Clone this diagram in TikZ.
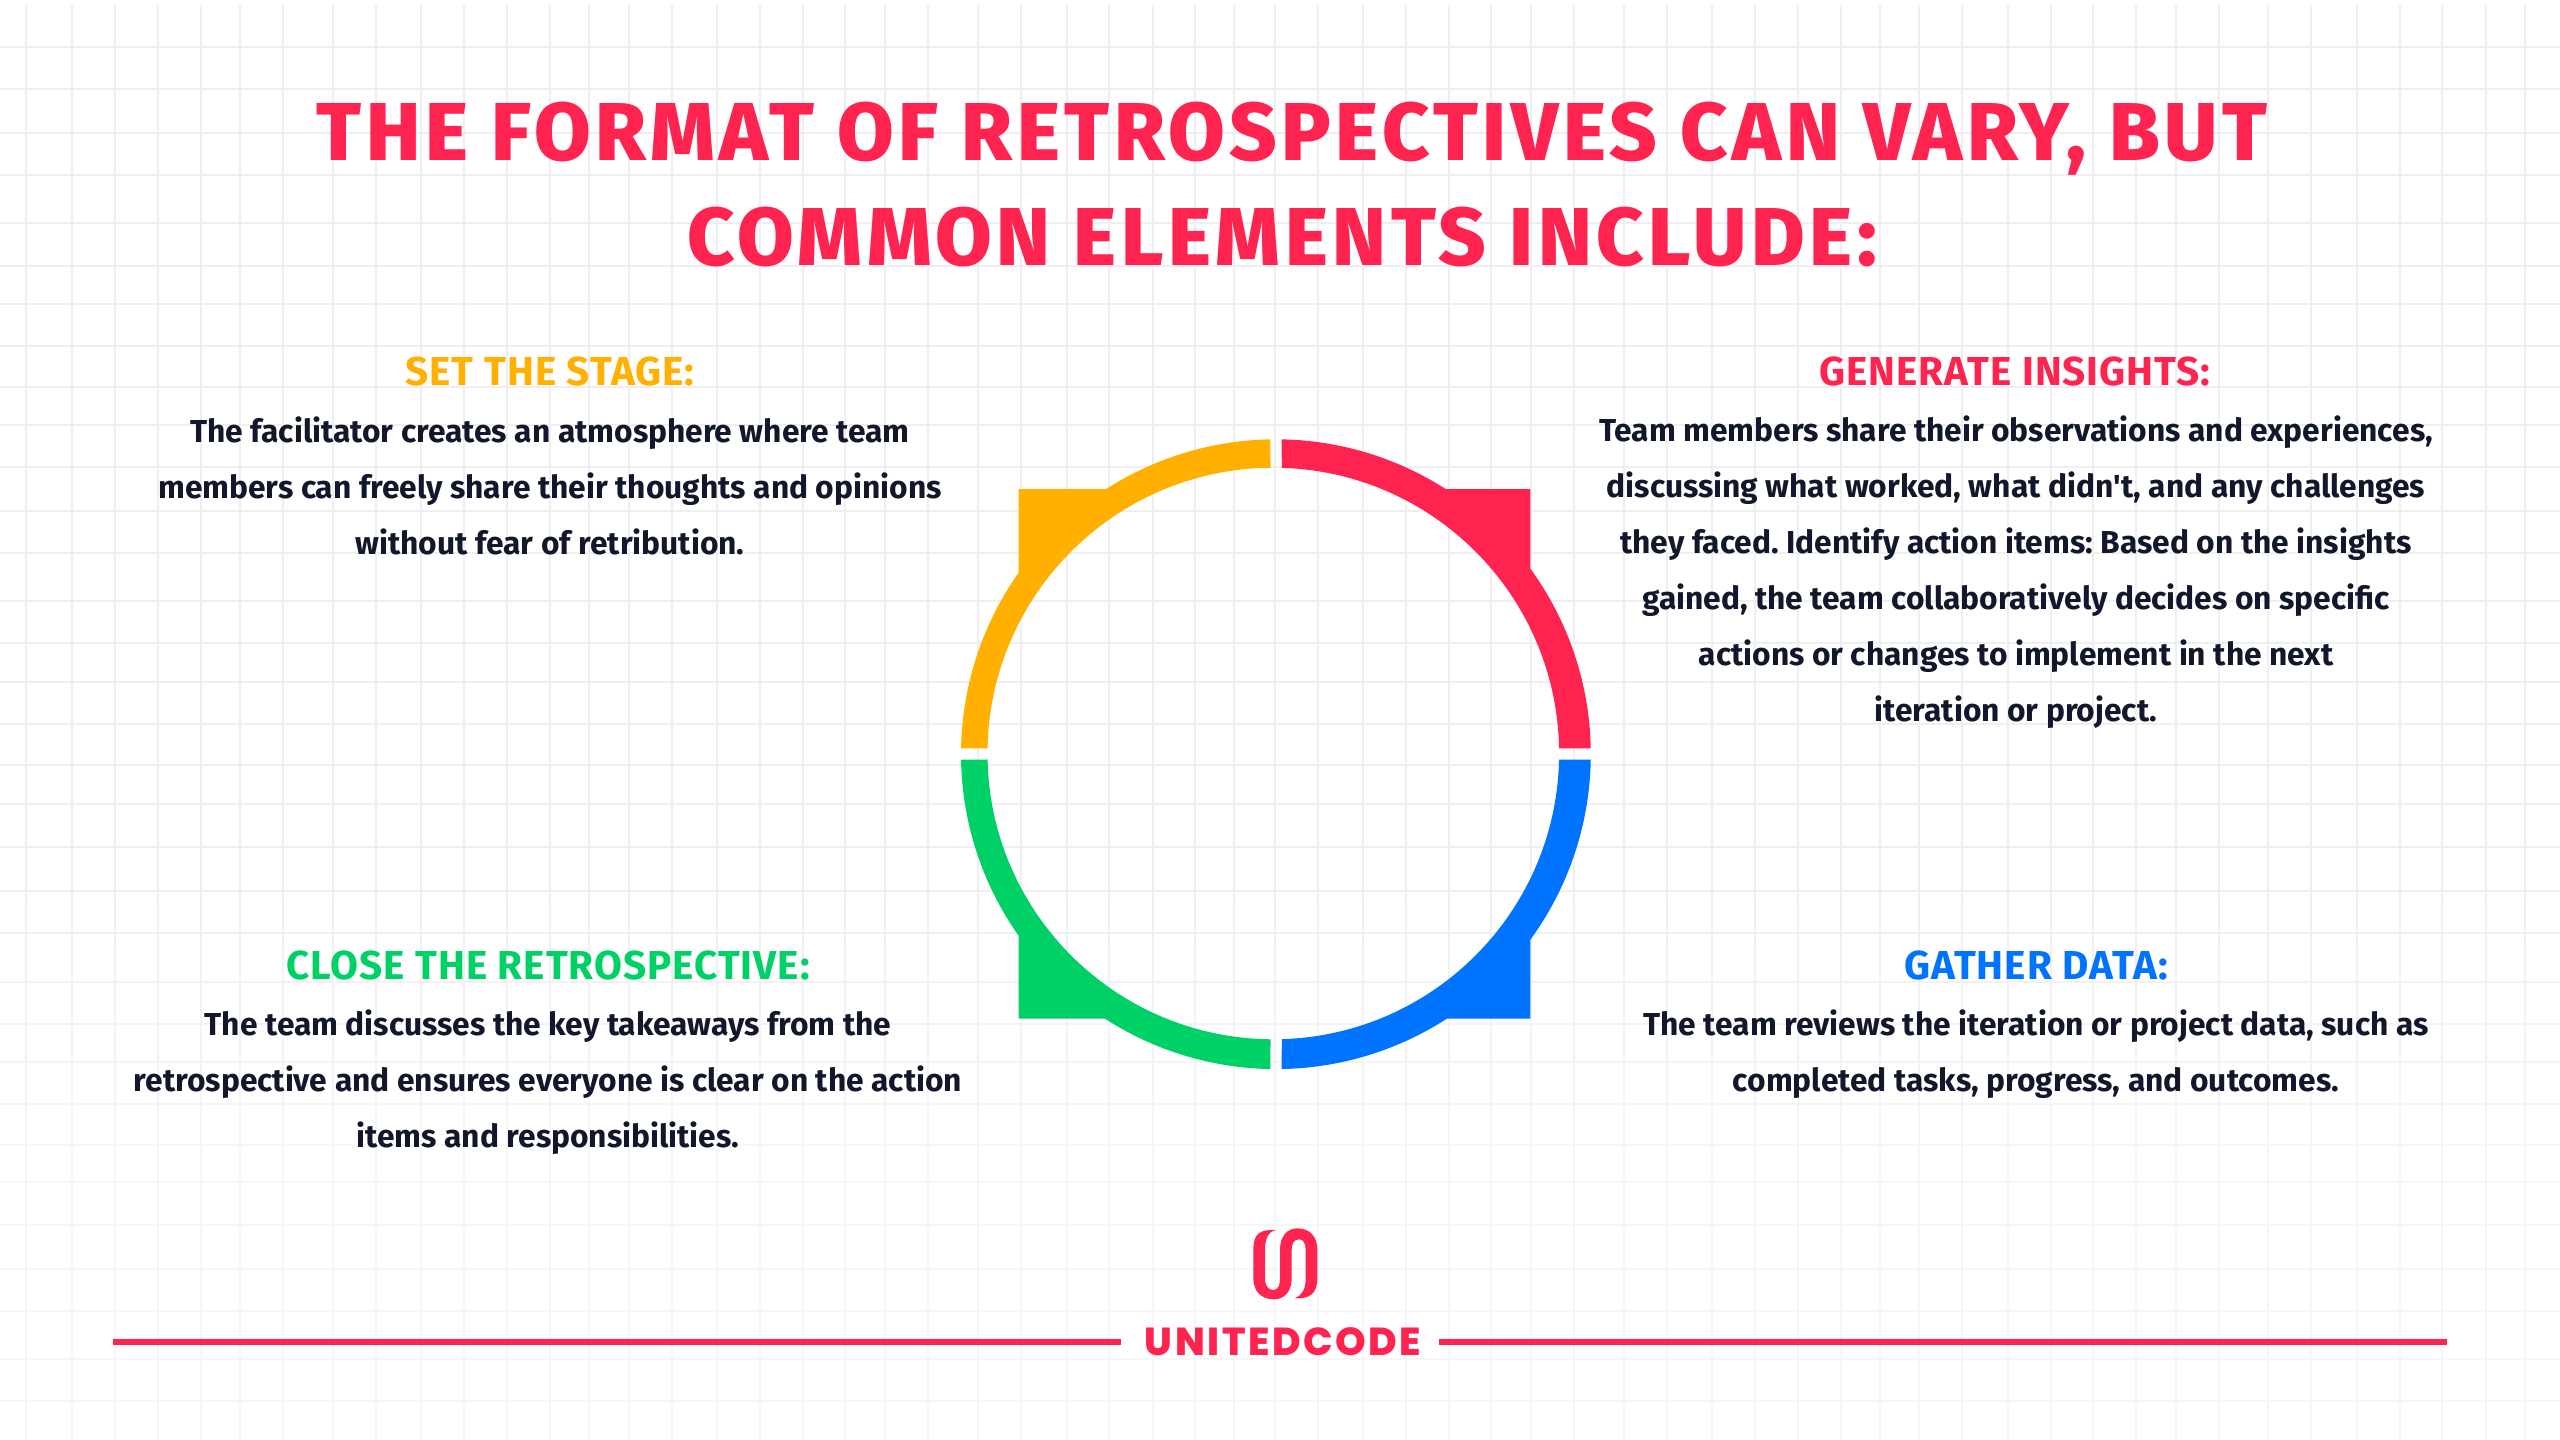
\documentclass[tikz,border=0pt]{standalone}
\usepackage{fontspec}
\setmainfont{Fira Sans}[BoldFont={Fira Sans Bold}]
\newfontfamily\bodyfont{Fira Sans}[BoldFont={Fira Sans Bold}]
\newfontfamily\titlefont{Fira Sans ExtraBold}[LetterSpace=5.6]
\newfontfamily\headfont{Fira Sans Bold}[LetterSpace=2.5]
\newfontfamily\logofont{Poppins ExtraBold}[LetterSpace=6.5]
\usetikzlibrary{calc}
\definecolor{cred}{HTML}{FF234F}
\definecolor{cyel}{HTML}{FFB000}
\definecolor{cgrn}{HTML}{00D167}
\definecolor{cblu}{HTML}{0073FF}
\definecolor{cink}{HTML}{12172B}
\definecolor{cgrid}{HTML}{EFEFF2}
\newcommand{\sector}[8]{%
  \fill[#1] ($(Oo)+(#2:314.9)$) arc[start angle=#2,end angle=#3,radius=314.9]
    -- (#6) -- ($(Oo)+(#4:314.9)$) arc[start angle=#4,end angle=#5,radius=314.9]
    -- ($(Oi)+(#7:285.8)$) arc[start angle=#7,end angle=#8,radius=285.8] -- cycle;}
\tikzset{
  head/.style={font=\headfont\fontsize{20.2}{24}\selectfont,inner sep=0pt,anchor=center},
  para/.style={font=\bodyfont\bfseries\frenchspacing\fontsize{15.87}{28}\selectfont,text=cink,align=center,inner sep=0pt,anchor=center},
  gridline/.style={cgrid,line width=0.9pt},
  rule/.style={cred,line width=3pt}
}
\begin{document}
\begin{tikzpicture}[x=0.5pt,y=-0.5pt]
\useasboundingbox (0,0) rectangle (2560,1440);
\fill[white] (0,0) rectangle (2560,1440);
\foreach \x in {26,72,115,158,201,240,283,333,376,421,464,507,550,589,629,672,717,760,803,845,885,928,978,1021,1067,1109,1153,1195,1234,1275,1318,1363,1406,1449,1491,1531,1574,1624,1667,1712,1755,1798,1841,1880,1919,1962,2008,2051,2093,2136,2176,2219,2268,2311,2357,2400,2442,2486,2525}
  \draw[gridline] (\x,5) -- (\x,1440);
\foreach \y in {47,89,133,175,223,266,304,346,387,425,467,511,553,601,643,682,724,765,804,847,891,933,982,1024,1062,1104,1145,1182,1225,1269,1311,1359,1401}
  \draw[gridline] (0,\y) -- (2560,\y);
\foreach \y in {900,940,...,1400}
  \fill[white,opacity=0.1] (0,\y) rectangle (2560,1440);

\coordinate (Oo) at (1275.9,754.2);
\coordinate (Oi) at (1273.3,753.5);
\coordinate (cTR) at (1530.3,489);
\coordinate (cTL) at (1018.5,489);
\coordinate (cBL) at (1018.5,1018.5);
\coordinate (cBR) at (1530.3,1018.5);
\sector{cred}{-88.95}{-57.37}{-36.11}{-1.07}{cTR}{-1.04}{-88.3}
\sector{cblu}{0.98}{36.11}{57.07}{88.95}{cBR}{88.3}{1.22}
\sector{cgrn}{91}{122.93}{144.82}{179}{cBL}{178.8}{90.56}
\sector{cyel}{181.07}{215.18}{237.37}{269}{cTL}{269.44}{181.04}

\node[font=\titlefont\fontsize{41}{52.5}\selectfont,text=cred,align=center,inner sep=0pt] (title) at (1282,185)
  {\hspace*{10pt}THE FORMAT OF RETROSPECTIVES CAN VARY, BUT\\COMMON ELEMENTS INCLUDE:};

\node[head,text=cyel] (h1) at (550,371) {SET THE STAGE:};
\node[para] (b1) at (550,486) {The facilitator creates an atmosphere where team\\members can freely share their thoughts and opinions\\without fear of retribution.};
\node[head,text=cred] (h2) at (2015,371) {GENERATE INSIGHTS:};
\node[para] (b2) at (2016,572) {Team members share their observations and experiences,\\discussing what worked, what didn't, and any challenges\\they faced. Identify action items: Based on the insights\\gained, the team collaboratively decides on specific\\actions or changes to implement in the next\\iteration or project.};
\node[head,text=cgrn] (h3) at (548,965) {CLOSE THE RETROSPECTIVE:};
\node[para] (b3) at (548,1082) {The team discusses the key takeaways from the\\retrospective and ensures everyone is clear on the action\\items and responsibilities.};
\node[head,text=cblu] (h4) at (2036,965) {GATHER DATA:};
\node[para] (b4) at (2036,1054) {The team reviews the iteration or project data, such as\\completed tasks, progress, and outcomes.};

\begin{scope}[shift={(1100,1200)},x=0.16667pt,y=-0.16667pt]
\fill[cred] (528,90) .. controls (480,88) and (460,100) .. (460,150) -- (460,235)
  .. controls (460,275) and (485,298) .. (522,298) .. controls (552,298) and (575,275) .. (575,235)
  -- (575,150) .. controls (575,130) and (583,118) .. (597,118) .. controls (610,118) and (617,130) .. (617,150)
  -- (617,235) .. controls (617,270) and (605,285) .. (585,295) .. controls (630,297) and (652,280) .. (652,235)
  -- (652,150) .. controls (652,110) and (630,85) .. (592,85) .. controls (560,85) and (540,110) .. (540,150)
  -- (540,235) .. controls (540,258) and (533,270) .. (520,270) .. controls (505,270) and (495,258) .. (495,235)
  -- (495,150) .. controls (495,115) and (505,95) .. (528,90) -- cycle;
\end{scope}

\node[font=\logofont\fontsize{19.5}{24}\selectfont,text=cred,inner sep=0pt] (word) at (1283,1342) {UNITEDCODE};
\coordinate (ruleAstart) at (113,1342);
\coordinate (ruleAend) at (1120.7,1342);
\coordinate (ruleBstart) at (1439,1342);
\coordinate (ruleBend) at (2447,1342);
\draw[rule] (ruleAstart) -- (ruleAend);
\draw[rule] (ruleBstart) -- (ruleBend);
\end{tikzpicture}
\end{document}
